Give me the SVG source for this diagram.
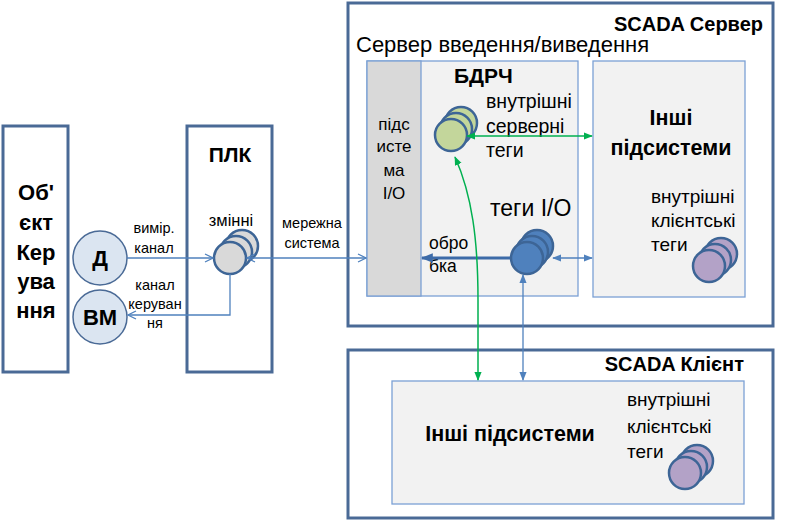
<svg xmlns="http://www.w3.org/2000/svg" width="785" height="521" viewBox="0 0 785 521">
<defs>
<style>
.box{fill:#fff;stroke:#4a6a96;stroke-width:3}
.inner{fill:#f2f2f2;stroke:#7ba0d4;stroke-width:1.3}
.t{font-family:"Liberation Sans",Arial,sans-serif;fill:#000}
.b{font-weight:bold}
.c{stroke:#3d6596;stroke-width:2.5}
.ln{fill:none;stroke:#4f81bd;stroke-width:1.3}
.gr{fill:none;stroke:#00b050;stroke-width:1.5}
</style>
<marker id="open" viewBox="0 0 10 10" refX="9" refY="5" markerWidth="10" markerHeight="10" markerUnits="userSpaceOnUse" orient="auto-start-reverse"><path d="M1 1 L9 5 L1 9" fill="none" stroke="#4f81bd" stroke-width="1.3"/></marker>
<marker id="bsolid" viewBox="0 0 10 10" refX="9" refY="5" markerWidth="9" markerHeight="9" markerUnits="userSpaceOnUse" orient="auto-start-reverse"><path d="M0 1 L10 5 L0 9 Z" fill="#4f81bd"/></marker>
<marker id="bthick" viewBox="0 0 10 10" refX="9" refY="5" markerWidth="12" markerHeight="12" markerUnits="userSpaceOnUse" orient="auto-start-reverse"><path d="M0 1 L10 5 L0 9 Z" fill="#3d6ba8"/></marker>
<marker id="gsolid" viewBox="0 0 10 10" refX="9" refY="5" markerWidth="9" markerHeight="9" markerUnits="userSpaceOnUse" orient="auto-start-reverse"><path d="M0 1 L10 5 L0 9 Z" fill="#00b050"/></marker>
</defs>

<g id="object">
<rect class="box" x="3" y="126" width="65" height="246"/>
<g class="t b" font-size="22" text-anchor="middle">
<text x="36" y="200">Об'</text>
<text x="36" y="230">єкт</text>
<text x="36" y="260">Кер</text>
<text x="36" y="289">ува</text>
<text x="36" y="318">ння</text>
</g>
</g>

<g id="plc">
<rect class="box" x="187" y="126" width="85" height="246"/>
<text class="t b" x="230" y="162" font-size="21" text-anchor="middle">ПЛК</text>
<text class="t" x="231" y="226" font-size="16.5" text-anchor="middle">змінні</text>
<g fill="#d9d9d9" class="c">
<circle cx="242" cy="246" r="16"/>
<circle cx="236" cy="252" r="16"/>
<circle cx="230" cy="258" r="16"/>
</g>
</g>

<g id="sensor">
<circle cx="100" cy="258" r="27" fill="#dbe5f1" stroke="#4a6a96" stroke-width="1.5"/>
<text class="t b" x="100" y="266" font-size="22" text-anchor="middle">Д</text>
</g>
<g id="actuator">
<circle cx="100" cy="317" r="27" fill="#dbe5f1" stroke="#4a6a96" stroke-width="1.5"/>
<text class="t b" x="100" y="325" font-size="22" text-anchor="middle">ВМ</text>
</g>

<g id="scada-server">
<rect class="box" x="348" y="3" width="425" height="323"/>
<text class="t b" x="763" y="31" font-size="20" text-anchor="end">SCADA Сервер</text>
<text class="t" x="356" y="52" font-size="22">Сервер введення/виведення</text>
</g>

<g id="io-server">
<rect class="inner" x="367" y="61" width="211" height="235"/>
<rect x="367" y="61" width="54" height="235" fill="#d9d9d9" stroke="#7ba0d4" stroke-width="1.3"/>
<g class="t" font-size="17" text-anchor="middle" fill="#1a1a1a">
<text x="394" y="130">підс</text>
<text x="394" y="152">исте</text>
<text x="394" y="176">ма</text>
<text x="394" y="199">I/O</text>
</g>
<text class="t b" x="454" y="83" font-size="21">БДРЧ</text>
<g class="t" font-size="19.5">
<text x="486" y="108">внутрішні</text>
<text x="486" y="133">серверні</text>
<text x="486" y="157">теги</text>
</g>
<g fill="#c3d69b" class="c">
<circle cx="461" cy="123" r="16"/>
<circle cx="456" cy="129" r="16"/>
<circle cx="451" cy="135" r="16"/>
</g>
<text class="t" x="490" y="216" font-size="23">теги I/O</text>
<g fill="#4f81bd" class="c">
<circle cx="537" cy="246" r="16"/>
<circle cx="532" cy="252" r="16"/>
<circle cx="527" cy="258" r="16"/>
</g>
<g class="t" font-size="17.5" fill="#2e5a9a">
<text x="429" y="249">обро</text>
<text x="429" y="272">бка</text>
</g>
</g>

<g id="other-server">
<rect class="inner" x="593" y="61" width="152" height="236"/>
<g class="t b" font-size="21.5" text-anchor="middle">
<text x="671" y="125">Інші</text>
<text x="671" y="155">підсистеми</text>
</g>
<g class="t" font-size="19">
<text x="651" y="203">внутрішні</text>
<text x="651" y="227">клієнтські</text>
<text x="651" y="251">теги</text>
</g>
<g fill="#b3a2c7" class="c">
<circle cx="721" cy="254" r="16"/>
<circle cx="715" cy="260" r="16"/>
<circle cx="709" cy="266" r="16"/>
</g>
</g>

<g id="scada-client">
<rect class="box" x="348" y="350" width="425" height="168"/>
<text class="t b" x="744" y="371" font-size="20" text-anchor="end">SCADA Клієнт</text>
</g>

<g id="other-client">
<rect class="inner" x="392" y="381" width="352" height="123"/>
<text class="t b" x="510" y="441" font-size="21.5" text-anchor="middle">Інші підсистеми</text>
<g class="t" font-size="19">
<text x="627" y="406">внутрішні</text>
<text x="627" y="433">клієнтські</text>
<text x="627" y="458">теги</text>
</g>
<g fill="#b3a2c7" class="c">
<circle cx="697" cy="461" r="16"/>
<circle cx="691" cy="467" r="16"/>
<circle cx="685" cy="473" r="16"/>
</g>
</g>

<g id="connectors">
<path class="ln" d="M127 258 H213" marker-end="url(#open)"/>
<path class="ln" d="M230 274 V315 H128" marker-end="url(#open)"/>
<path class="ln" d="M247 258 H366" marker-start="url(#open)" marker-end="url(#open)"/>
<path d="M510 258 H422" fill="none" stroke="#3d6ba8" stroke-width="3" marker-end="url(#bthick)"/>
<path class="ln" d="M553 258 H592" marker-start="url(#bsolid)" marker-end="url(#bsolid)"/>
<path class="ln" d="M523 275 V380" marker-start="url(#bsolid)" marker-end="url(#bsolid)"/>
<path class="gr" d="M467 136 H592" marker-start="url(#gsolid)" marker-end="url(#gsolid)"/>
<path class="gr" d="M455 157 C472 195 478 240 478 300 V380" marker-start="url(#gsolid)" marker-end="url(#gsolid)"/>
<g class="t" font-size="14.5" text-anchor="middle">
<text x="154" y="233">вимір.</text>
<text x="154" y="253">канал</text>
<text x="155" y="290">канал</text>
<text x="155" y="309">керуван</text>
<text x="155" y="328">ня</text>
<text x="312" y="228">мережна</text>
<text x="312" y="248">система</text>
</g>
</g>
</svg>
